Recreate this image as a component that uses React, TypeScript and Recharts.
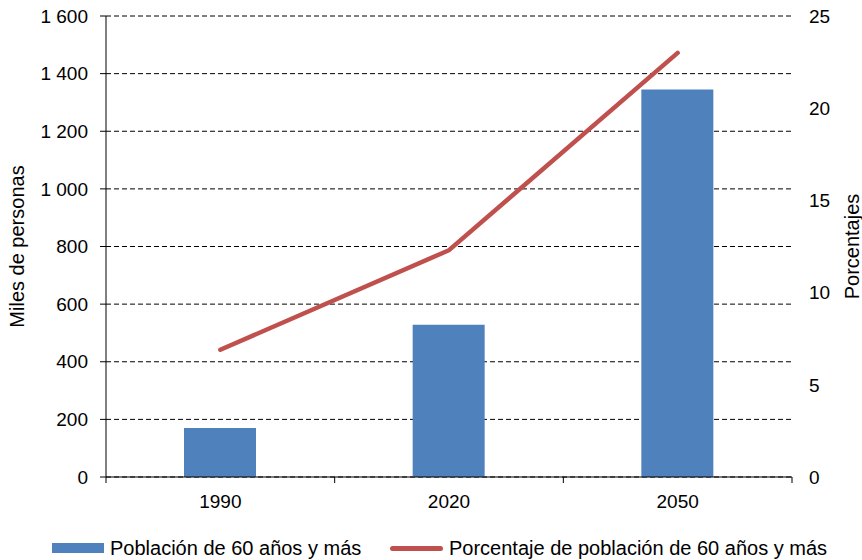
import {
  Bar,
  CartesianGrid,
  ComposedChart,
  Line,
  XAxis,
  YAxis,
} from 'recharts';

const years = ['1990', '2020', '2050'];
const poblacion = [170, 528, 1345]; // miles de personas
const porcentaje = [6.9, 12.3, 23.0]; // %
const leftTicks = [0, 200, 400, 600, 800, 1000, 1200, 1400, 1600];
const rightTicks = [0, 5, 10, 15, 20, 25];

const seriesNames = ['Población de 60 años y más', 'Porcentaje de población de 60 años y más'];
const BLUE = '#4F81BD';
const RED = '#C0504D';
const FONT = '"Liberation Sans", Arial, sans-serif';

const data = years.map((year, i) => ({
  year,
  poblacion: poblacion[i],
  porcentaje: porcentaje[i],
}));

const withSpaces = (v: number) => String(v).replace(/\B(?=(\d{3})+(?!\d))/g, ' ');

function AxisTitle({ viewBox, value, dx }: any) {
  const cx = viewBox.x + dx;
  const cy = viewBox.y + viewBox.height / 2;
  return (
    <text
      x={cx}
      y={cy}
      transform={`rotate(-90, ${cx}, ${cy})`}
      textAnchor="middle"
      dominantBaseline="central"
      fontSize={20}
      fill="#000"
    >
      {value}
    </text>
  );
}

// category label + Excel-style tick marks on the band edges
function YearTick(props: any) {
  const { x, y, payload, index, visibleTicksCount } = props;
  const half = payload?.offset ?? 0;
  const axisY = y - 18;
  return (
    <g>
      <line x1={x - half} x2={x - half} y1={axisY} y2={axisY + 6} stroke="#000" />
      {index === visibleTicksCount - 1 && (
        <line x1={x + half} x2={x + half} y1={axisY} y2={axisY + 6} stroke="#000" />
      )}
      <text x={x} y={y} dy="0.71em" textAnchor="middle" fill="#000" fontSize={19}>
        {payload.value}
      </text>
    </g>
  );
}

const tickStyle = { fill: '#000', fontSize: 19 };

export default function App() {
  return (
    <div style={{ position: 'relative', width: 862, height: 560, fontFamily: FONT, background: '#fff' }}>
      <style>{'body{margin:0}'}</style>
      <ComposedChart
        width={862}
        height={560}
        data={data}
        margin={{ top: 16, right: 0, left: 0, bottom: 53 }}
      >
        <CartesianGrid yAxisId="left" vertical={false} stroke="#000" strokeDasharray="5 3" />
        <XAxis
          xAxisId="cat"
          dataKey="year"
          tickLine={false}
          axisLine={{ stroke: '#000' }}
          tickSize={0}
          tickMargin={18}
          tick={<YearTick />}
          height={30}
        />
        <YAxis
          yAxisId="left"
          width={106}
          domain={[0, 1600]}
          ticks={leftTicks}
          tickFormatter={withSpaces}
          axisLine={{ stroke: '#000' }}
          tickLine={{ stroke: '#000' }}
          tickSize={6}
          tickMargin={12}
          tick={tickStyle}
          label={<AxisTitle value="Miles de personas" dx={17} />}
        />
        <YAxis
          yAxisId="right"
          orientation="right"
          width={70}
          domain={[0, 25]}
          ticks={rightTicks}
          axisLine={false}
          tickLine={false}
          tickSize={0}
          tickMargin={17}
          tick={tickStyle}
          label={<AxisTitle value="Porcentajes" dx={60} />}
        />
        <Bar
          xAxisId="cat"
          yAxisId="left"
          dataKey="poblacion"
          name={seriesNames[0]}
          fill={BLUE}
          barSize={72}
          isAnimationActive={false}
        />
        <Line
          xAxisId="cat"
          yAxisId="right"
          dataKey="porcentaje"
          name={seriesNames[1]}
          type="linear"
          stroke={RED}
          strokeWidth={4.5}
          strokeLinecap="round"
          dot={false}
          activeDot={false}
          isAnimationActive={false}
        />
      </ComposedChart>

      <div style={{ position: 'absolute', left: 52, top: 536, height: 24, display: 'flex', alignItems: 'center', fontSize: 20 }}>
        <span style={{ display: 'inline-block', width: 52, height: 10, background: BLUE, marginRight: 6 }} />
        <span>{seriesNames[0]}</span>
      </div>
      <div style={{ position: 'absolute', left: 390, top: 536, height: 24, display: 'flex', alignItems: 'center', fontSize: 20 }}>
        <span style={{ display: 'inline-block', width: 53, height: 5, borderRadius: 3, background: RED, marginRight: 6 }} />
        <span>{seriesNames[1]}</span>
      </div>
    </div>
  );
}
